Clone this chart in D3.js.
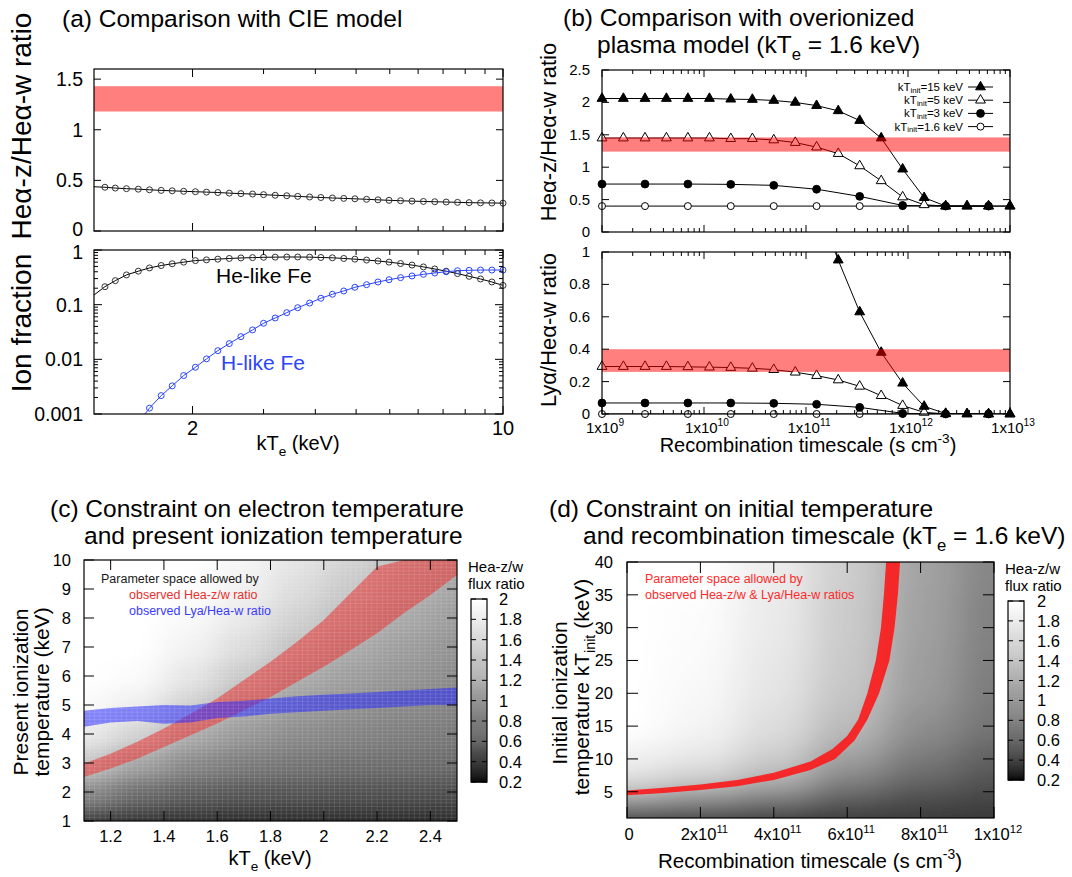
<!DOCTYPE html>
<html>
<head>
<meta charset="utf-8">
<script src="https://cdnjs.cloudflare.com/ajax/libs/d3/7.8.5/d3.min.js"></script>
<style>
  body { margin: 0; background: #fff; }
  svg text { font-family: "Liberation Sans", Arial, Helvetica, sans-serif; }
</style>
</head>
<body>
<div id="chart"></div>
<script>
// ---------- (a) CIE model ----------
const kTeCIE = [1.2, 1.27, 1.34, 1.42, 1.51, 1.60, 1.70, 1.80, 1.91, 2.03, 2.15, 2.28, 2.42, 2.57, 2.73, 2.89, 3.07, 3.26, 3.45,
  3.67, 3.89, 4.13, 4.38, 4.64, 4.93, 5.23, 5.54, 5.88, 6.24, 6.62, 7.02, 7.45, 7.90, 8.39, 8.90, 9.44, 10.0]
const zwRatioCIE = [0.437, 0.432, 0.424, 0.418, 0.413, 0.407, 0.401, 0.397, 0.392, 0.388, 0.384, 0.380, 0.374, 0.369, 0.365,
  0.359, 0.353, 0.348, 0.342, 0.336, 0.331, 0.326, 0.322, 0.318, 0.313, 0.308, 0.303, 0.299, 0.295, 0.292, 0.289, 0.286,
  0.283, 0.280, 0.278, 0.277, 0.275]
const heLikeFe = [0.15, 0.213, 0.275, 0.35, 0.41, 0.47, 0.52, 0.56, 0.60, 0.64, 0.66, 0.68, 0.70, 0.715, 0.725, 0.735, 0.74,
  0.745, 0.745, 0.74, 0.73, 0.72, 0.70, 0.68, 0.655, 0.63, 0.60, 0.565, 0.53, 0.49, 0.45, 0.41, 0.37, 0.33, 0.295, 0.26, 0.225]
const hLikeFe = [null, null, null, null, 0.0007, 0.00128, 0.00217, 0.00327, 0.00505, 0.00716, 0.0102, 0.0144, 0.0194, 0.026,
  0.0345, 0.0457, 0.0571, 0.0714, 0.088, 0.107, 0.131, 0.155, 0.178, 0.208, 0.232, 0.26, 0.286, 0.312, 0.335, 0.359, 0.38,
  0.40, 0.418, 0.425, 0.43, 0.43, 0.43]
const zwObsA = [1.18, 1.43]
const kTeMinorTicks = [2.89, 3.78, 4.67, 5.56, 6.44, 7.33, 8.22, 9.11]

// ---------- (b) overionized plasma model ----------
const tauFine = [1e9, 1.62e9, 2.64e9, 4.28e9, 6.95e9, 1.13e10, 1.83e10, 2.98e10, 4.83e10, 7.85e10, 1.27e11, 2.07e11,
  3.36e11, 5.46e11, 8.86e11, 1.44e12, 2.34e12, 3.79e12, 6.16e12, 1e13]
const tauCoarse = [1e9, 2.64e9, 6.95e9, 1.83e10, 4.83e10, 1.27e11, 3.36e11, 8.86e11, 2.34e12, 6.16e12]
const zw15 = [2.06, 2.06, 2.06, 2.06, 2.06, 2.06, 2.05, 2.045, 2.03, 2.0, 1.95, 1.87, 1.72, 1.45, 0.97, 0.53, 0.40, 0.40, 0.40, 0.40]
const zw5 = [1.45, 1.45, 1.45, 1.45, 1.45, 1.45, 1.44, 1.44, 1.42, 1.38, 1.31, 1.21, 1.02, 0.79, 0.54, 0.42, 0.40, 0.40, 0.40, 0.40]
const zw3 = [0.74, 0.74, 0.74, 0.735, 0.72, 0.66, 0.55, 0.41, 0.40, 0.40]
const zw16 = [0.40, 0.40, 0.40, 0.40, 0.40, 0.40, 0.40, 0.40, 0.40, 0.40]
const ly15 = [null, null, null, null, null, null, null, null, null, null, 1.3, 0.95, 0.63, 0.38, 0.19, 0.047, 0.003, 0.001, 0, 0]
const ly5 = [0.293, 0.293, 0.293, 0.293, 0.291, 0.289, 0.287, 0.282, 0.274, 0.258, 0.237, 0.21, 0.171, 0.113, 0.052, 0.01, 0.001, 0, 0, 0]
const ly3 = [0.068, 0.068, 0.068, 0.068, 0.066, 0.06, 0.041, 0.004, 0, 0]
const ly16 = [0, 0, 0, 0, 0, 0, 0, 0, 0, 0]
const zwObsB = [1.24, 1.46]
const lyObsB = [0.26, 0.40]
const initLabels = ["15", "5", "3", "1.6"]

// ---------- (c) kTe vs present ionization temperature ----------
const kTeMap = [1.1, 1.3, 1.5, 1.7, 1.9, 2.1, 2.3, 2.5]
const tzMap = [1, 2, 3, 4, 5, 6, 7, 8, 9, 10]
const zwMapC = [
  [0.40, 0.92, 1.43, 1.78, 1.95, 2.05, 2.10, 2.12, 2.15, 2.15],
  [0.36, 0.70, 1.12, 1.55, 1.82, 1.96, 2.04, 2.08, 2.10, 2.12],
  [0.34, 0.60, 0.90, 1.20, 1.52, 1.73, 1.86, 1.94, 1.98, 2.02],
  [0.33, 0.56, 0.80, 1.02, 1.22, 1.45, 1.64, 1.76, 1.85, 1.90],
  [0.33, 0.54, 0.76, 0.92, 1.06, 1.20, 1.38, 1.53, 1.64, 1.72],
  [0.33, 0.52, 0.72, 0.86, 0.97, 1.07, 1.18, 1.31, 1.44, 1.55],
  [0.33, 0.51, 0.70, 0.82, 0.91, 0.99, 1.07, 1.16, 1.26, 1.36],
  [0.33, 0.50, 0.68, 0.78, 0.86, 0.92, 0.98, 1.05, 1.13, 1.22]
]
const kTeBand = [1.1, 1.2, 1.3, 1.4, 1.5, 1.6, 1.7, 1.8, 1.9, 2.0, 2.1, 2.2, 2.3, 2.4, 2.5]
const zwBandLo = [2.52, 2.81, 3.15, 3.55, 3.96, 4.36, 4.82, 5.28, 5.80, 6.32, 6.89, 7.47, 8.16, 8.79, 9.48]
const zwBandHi = [2.98, 3.32, 3.73, 4.19, 4.70, 5.22, 5.86, 6.49, 7.18, 7.93, 8.85, 9.77, 10, 10, 10]
const lyBandLo = [4.25, 4.40, 4.45, 4.35, 4.40, 4.55, 4.60, 4.70, 4.75, 4.80, 4.85, 4.90, 4.95, 5.00, 5.00]
const lyBandHi = [4.80, 4.90, 4.95, 5.00, 4.98, 5.10, 5.15, 5.22, 5.30, 5.35, 5.40, 5.45, 5.50, 5.55, 5.60]

// ---------- (d) initial temperature vs recombination timescale ----------
const tauMap = [0, 2e11, 4e11, 6e11, 8e11, 1e12]
const kTinitMap = [1, 3, 5, 7.5, 10, 15, 20, 25, 30, 40]
const zwMapD = [
  [0.38, 0.77, 1.40, 1.70, 1.85, 2.06, 2.10, 2.12, 2.15, 2.20],
  [0.38, 0.70, 1.20, 1.55, 1.75, 1.88, 1.93, 1.95, 1.97, 2.00],
  [0.38, 0.60, 1.00, 1.30, 1.50, 1.65, 1.72, 1.75, 1.78, 1.80],
  [0.38, 0.50, 0.70, 0.90, 1.10, 1.32, 1.42, 1.46, 1.48, 1.50],
  [0.38, 0.45, 0.55, 0.68, 0.80, 0.95, 1.05, 1.08, 1.10, 1.12],
  [0.38, 0.43, 0.48, 0.55, 0.62, 0.75, 0.80, 0.83, 0.85, 0.88]
]
const allowedInnerTau = [0, 1e11, 2e11, 3e11, 4e11, 5e11, 5.6e11, 6e11, 6.3e11, 6.55e11, 6.78e11, 6.92e11, 7.0e11, 7.06e11]
const allowedInnerKT = [5.2, 5.6, 6.1, 6.8, 7.9, 9.6, 11.5, 13.5, 16, 20, 25, 30, 35, 40]
const allowedOuterTau = [0, 1e11, 2e11, 3e11, 4e11, 5e11, 5.67e11, 6.2e11, 6.55e11, 6.87e11, 7.15e11, 7.29e11, 7.38e11, 7.44e11]
const allowedOuterKT = [4.45, 4.8, 5.25, 5.85, 6.8, 8.3, 10, 12.8, 16, 20, 25, 30, 35, 40]

const cbTicks = [0.2, 0.4, 0.6, 0.8, 1, 1.2, 1.4, 1.6, 1.8, 2]

// ===================================================================
const svg = d3.select("#chart").append("svg").attr("width", 1072).attr("height", 877)
const defs = svg.append("defs")

// gnuplot gray palette (gamma 1.5)
const grayNorm = d3.scaleLinear().domain([0.2, 2]).range([0, 1]).clamp(true)
const gray = v => {
  const c = Math.round(255 * Math.pow(grayNorm(v), 1 / 1.5))
  return `rgb(${c},${c},${c})`
}

const sub = (t, v = 0.3) => ({t: t, v: v})
const sup = t => ({t: t, v: -0.45})

function label(x, y, parts, fs, opts = {}) {
  const t = svg.append("text")
    .attr("x", x).attr("y", y)
    .attr("font-size", fs)
    .attr("text-anchor", opts.anchor || "start")
    .attr("fill", opts.fill || "#000")
  if (opts.rotate) t.attr("transform", `rotate(-90,${x},${y})`)
  let shift = 0
  ;(Array.isArray(parts) ? parts : [parts]).forEach(p => {
    const s = typeof p === "string" ? {t: p, v: 0} : p
    const target = s.v * fs
    t.append("tspan").attr("dy", target - shift).attr("font-size", s.v ? fs * 0.68 : fs).text(s.t)
    shift = target
  })
  return t
}

function panel(id, x, y, w, h) {
  defs.append("clipPath").attr("id", id).append("rect").attr("width", w).attr("height", h)
  const g = svg.append("g").attr("transform", `translate(${x},${y})`)
  const inner = g.append("g").attr("clip-path", `url(#${id})`)
  return {id, g, inner, x, y, w, h}
}

function frame(p) {
  p.g.append("rect").attr("width", p.w).attr("height", p.h)
    .attr("fill", "none").attr("stroke", "#000").attr("stroke-width", 1.2)
}

function xTicks(p, scale, values, len) {
  p.g.append("path")
    .attr("d", values.map(v => `M${scale(v)},${p.h}v${-len}M${scale(v)},0v${len}`).join(""))
    .attr("stroke", "#000").attr("stroke-width", 1)
}

function yTicks(p, scale, values, len) {
  p.g.append("path")
    .attr("d", values.map(v => `M0,${scale(v)}h${len}M${p.w},${scale(v)}h${-len}`).join(""))
    .attr("stroke", "#000").attr("stroke-width", 1)
}

function logMinor(lo, hi) {
  const out = []
  for (let e = lo; e < hi; e++) for (let m = 2; m <= 9; m++) out.push(m * Math.pow(10, e))
  return out
}

const fmt = v => String(+v.toFixed(3))

function heat(p, xScale, yScale, xs, ys, vals, blur, ext) {
  const fid = p.id + "Blur"
  defs.append("filter").attr("id", fid)
    .attr("x", "-20%").attr("y", "-20%").attr("width", "140%").attr("height", "140%")
    .append("feGaussianBlur").attr("stdDeviation", blur)
  const px = xs.map(xScale), py = ys.map(yScale)
  const xl = px.map((v, i) => i === 0 ? v - ext : (v + px[i - 1]) / 2)
  const xr = px.map((v, i) => i === px.length - 1 ? v + ext : (v + px[i + 1]) / 2)
  const yt = py.map((v, i) => i === py.length - 1 ? v - ext : (v + py[i + 1]) / 2)
  const yb = py.map((v, i) => i === 0 ? v + ext : (v + py[i - 1]) / 2)
  const cells = []
  xs.forEach((x, i) => ys.forEach((y, j) => cells.push({i, j, v: vals[i][j]})))
  p.inner.append("g").attr("filter", `url(#${fid})`)
    .selectAll("rect").data(cells).join("rect")
      .attr("x", d => xl[d.i]).attr("y", d => yt[d.j])
      .attr("width", d => xr[d.i] - xl[d.i] + 0.6)
      .attr("height", d => yb[d.j] - yt[d.j] + 0.6)
      .attr("fill", d => gray(d.v))
}

function colorbar(x, y, w, h, labelX) {
  const s = d3.scaleLinear().domain([0.2, 2]).range([h, 0])
  const g = svg.append("g").attr("transform", `translate(${x},${y})`)
  const steps = d3.range(0.2, 2, 0.01)
  g.selectAll("rect.cb").data(steps).join("rect")
    .attr("x", 0).attr("width", w)
    .attr("y", d => s(d + 0.01)).attr("height", d => s(d) - s(d + 0.01) + 0.5)
    .attr("fill", d => gray(d + 0.005))
  g.append("path")
    .attr("d", cbTicks.map(v => `M0,${s(v)}h5M${w},${s(v)}h-5`).join(""))
    .attr("stroke", "#000").attr("stroke-width", 1)
  g.append("rect").attr("width", w).attr("height", h).attr("fill", "none").attr("stroke", "#000").attr("stroke-width", 1.2)
  cbTicks.forEach(v => label(labelX, y + s(v) + 6, fmt(v), 16.5))
  label(x - 3, y - 27.5, "Hea-z/w", 15)
  label(x - 3, y - 10, "flux ratio", 15)
}

// ===================== (a) =====================
label(62, 27, "(a) Comparison with CIE model", 24.5)

const xA = d3.scaleLog().domain([1.2, 10]).range([0, 409])
const pA1 = panel("clipA1", 94, 69, 409, 162)
const yA1 = d3.scaleLinear().domain([0, 1.6]).range([162, 0])
const ptsA1 = kTeCIE.map((k, i) => ({x: k, y: zwRatioCIE[i]}))
pA1.inner.append("path").datum(ptsA1)
  .attr("d", d3.line().x(d => xA(d.x)).y(d => yA1(d.y)))
  .attr("fill", "none").attr("stroke", "#000").attr("stroke-width", 1)
pA1.g.selectAll("circle").data(ptsA1.filter(d => d.x > xA.domain()[0])).join("circle")
  .attr("cx", d => xA(d.x)).attr("cy", d => yA1(d.y)).attr("r", 3)
  .attr("fill", "none").attr("stroke", "#333").attr("stroke-width", 1)
pA1.g.append("rect").attr("x", 0).attr("width", 409)
  .attr("y", yA1(zwObsA[1])).attr("height", yA1(zwObsA[0]) - yA1(zwObsA[1]))
  .attr("fill", "rgb(255,0,0)").attr("opacity", 0.5)
xTicks(pA1, xA, [2, 10], 8)
xTicks(pA1, xA, kTeMinorTicks, 5)
yTicks(pA1, yA1, [0, 0.5, 1, 1.5], 7)
frame(pA1)
;[0, 0.5, 1, 1.5].forEach(v => label(83, 69 + yA1(v) + (v === 0 ? 5 : 7), fmt(v), 19.5, {anchor: "end"}))
label(31, 126, "Heα-z/Heα-w ratio", 28, {anchor: "middle", rotate: true})

const pA2 = panel("clipA2", 94, 250, 409, 164)
const yA2 = d3.scaleLog().domain([0.001, 1]).range([164, 0])
const heLine = kTeCIE.map((k, i) => ({x: k, y: heLikeFe[i]}))
const hLine = kTeCIE.map((k, i) => ({x: k, y: hLikeFe[i]})).filter(d => d.y !== null)
const lineA2 = d3.line().x(d => xA(d.x)).y(d => yA2(d.y))
pA2.inner.append("path").datum(heLine).attr("d", lineA2)
  .attr("fill", "none").attr("stroke", "#000").attr("stroke-width", 1)
pA2.inner.append("path").datum(hLine).attr("d", lineA2)
  .attr("fill", "none").attr("stroke", "#2b45ff").attr("stroke-width", 1)
pA2.g.append("g").selectAll("circle").data(heLine.filter(d => d.x > 1.2)).join("circle")
  .attr("cx", d => xA(d.x)).attr("cy", d => yA2(d.y)).attr("r", 3)
  .attr("fill", "none").attr("stroke", "#333").attr("stroke-width", 1)
pA2.g.append("g").selectAll("circle").data(hLine.filter(d => d.y >= 0.001)).join("circle")
  .attr("cx", d => xA(d.x)).attr("cy", d => yA2(d.y)).attr("r", 3)
  .attr("fill", "none").attr("stroke", "#2b45ff").attr("stroke-width", 1)
xTicks(pA2, xA, [2, 10], 8)
xTicks(pA2, xA, kTeMinorTicks, 5)
yTicks(pA2, yA2, [0.001, 0.01, 0.1, 1], 8)
yTicks(pA2, yA2, logMinor(-3, 0), 4)
frame(pA2)
;[0.001, 0.01, 0.1, 1].forEach(v => label(83, 250 + yA2(v) + (v === 1 ? 9 : 7), fmt(v), 19.5, {anchor: "end"}))
label(94 + xA(2), 435, "2", 20, {anchor: "middle"})
label(94 + xA(10), 435, "10", 20, {anchor: "middle"})
label(298, 450, ["kT", sub("e"), " (keV)"], 20, {anchor: "middle"})
label(31, 323, "Ion fraction", 28, {anchor: "middle", rotate: true})
label(216, 283, "He-like Fe", 21)
label(221, 370, "H-like Fe", 21, {fill: "#2b45ff"})

// ===================== (b) =====================
label(563, 26, "(b) Comparison with overionized", 24.5)
label(597, 52.5, ["plasma model (kT", sub("e"), " = 1.6 keV)"], 24.5)

const xB = d3.scaleLog().domain([1e9, 1e13]).range([0, 408])
const pB1 = panel("clipB1", 602, 70, 408, 162)
const pB2 = panel("clipB2", 602, 252, 408, 162)
const yB1 = d3.scaleLinear().domain([0, 2.5]).range([162, 0])
const yB2 = d3.scaleLinear().domain([0, 1]).range([162, 0])

const seriesB = [
  {name: initLabels[0], tau: tauFine, zw: zw15, ly: ly15, shape: "tri", filled: true},
  {name: initLabels[1], tau: tauFine, zw: zw5, ly: ly5, shape: "tri", filled: false},
  {name: initLabels[2], tau: tauCoarse, zw: zw3, ly: ly3, shape: "circ", filled: true},
  {name: initLabels[3], tau: tauCoarse, zw: zw16, ly: ly16, shape: "circ", filled: false}
]
const triangle = d3.symbol(d3.symbolTriangle, 42)

function marker(sel, s) {
  if (s.shape === "tri") {
    sel.append("path").attr("d", triangle)
  } else {
    sel.append("circle").attr("r", s.filled ? 3.9 : 3.5)
  }
  sel.selectAll("path,circle")
    .attr("fill", s.filled ? "#000" : "#fff").attr("stroke", "#000").attr("stroke-width", 1)
}

function drawSeries(p, yScale, key) {
  const line = d3.line().x(d => xB(d.x)).y(d => yScale(d.y))
  seriesB.slice().reverse().forEach(s => {
    const pts = s.tau.map((t, i) => ({x: t, y: s[key][i]})).filter(d => d.y !== null)
    p.inner.append("path").datum(pts).attr("d", line)
      .attr("fill", "none").attr("stroke", "#000").attr("stroke-width", 1)
    const dom = yScale.domain()
    p.g.append("g").selectAll("g").data(pts.filter(d => d.y <= dom[1])).join("g")
      .attr("transform", d => `translate(${xB(d.x)},${yScale(d.y)})`)
      .each(function() { marker(d3.select(this), s) })
  })
}

// observed ranges drawn on top of the model curves (translucent)
drawSeries(pB1, yB1, "zw")
pB1.g.append("rect").attr("width", 408)
  .attr("y", yB1(zwObsB[1])).attr("height", yB1(zwObsB[0]) - yB1(zwObsB[1]))
  .attr("fill", "rgb(255,0,0)").attr("opacity", 0.5)
drawSeries(pB2, yB2, "ly")
pB2.g.append("rect").attr("width", 408)
  .attr("y", yB2(lyObsB[1])).attr("height", yB2(lyObsB[0]) - yB2(lyObsB[1]))
  .attr("fill", "rgb(255,0,0)").attr("opacity", 0.5)

const decB = [1e9, 1e10, 1e11, 1e12, 1e13]
;[pB1, pB2].forEach(p => {
  xTicks(p, xB, decB, 7)
  xTicks(p, xB, logMinor(9, 13), 4)
})
yTicks(pB1, yB1, [0, 0.5, 1, 1.5, 2, 2.5], 7)
yTicks(pB2, yB2, [0, 0.2, 0.4, 0.6, 0.8, 1], 7)
frame(pB1)
frame(pB2)
;[0, 0.5, 1, 1.5, 2, 2.5].forEach(v => label(590, 70 + yB1(v) + 5, fmt(v), 15, {anchor: "end"}))
;[0, 0.2, 0.4, 0.6, 0.8, 1].forEach(v => label(590, 252 + yB2(v) + 5, fmt(v), 15, {anchor: "end"}))
decB.forEach(v => label(602 + xB(v) + 3, 433, ["1x10", sup(String(Math.round(Math.log10(v))))], 15, {anchor: "middle"}))
label(808, 452, ["Recombination timescale (s cm", sup("-3"), ")"], 20, {anchor: "middle"})
label(556, 132, "Heα-z/Heα-w ratio", 22, {anchor: "middle", rotate: true})
label(556, 330, "Lyα/Heα-w ratio", 22, {anchor: "middle", rotate: true})

// legend
seriesB.forEach((s, i) => {
  const cy = 87 + i * 13.2
  label(963, cy + 4, ["kT", sub("init", 0.16), "=" + s.name + " keV"], 11.5, {anchor: "end"})
  svg.append("line").attr("x1", 968).attr("x2", 993).attr("y1", cy).attr("y2", cy)
    .attr("stroke", "#000").attr("stroke-width", 1)
  const mg = svg.append("g").attr("transform", `translate(980.5,${cy})`)
  marker(mg, s)
})

// ===================== (c) =====================
label(50, 517, "(c) Constraint on electron temperature", 24.5)
label(84, 544, "and present ionization temperature", 24.5)

const pC = panel("clipC", 84, 560, 373, 261)
const xC = d3.scaleLinear().domain([1.1, 2.5]).range([0, 373])
const yC = d3.scaleLinear().domain([1, 10]).range([261, 0])
heat(pC, xC, yC, kTeMap, tzMap, zwMapC, "16 9", 70)

const bandArea = d3.area().x(d => xC(d.x)).y0(d => yC(d.lo)).y1(d => yC(d.hi))
pC.inner.append("path")
  .datum(kTeBand.map((k, i) => ({x: k, lo: zwBandLo[i], hi: zwBandHi[i]})))
  .attr("d", bandArea).attr("fill", "rgb(235,45,45)").attr("opacity", 0.55)
pC.inner.append("path")
  .datum(kTeBand.map((k, i) => ({x: k, lo: lyBandLo[i], hi: lyBandHi[i]})))
  .attr("d", bandArea).attr("fill", "rgb(40,40,255)").attr("opacity", 0.55)

// faint cell grid of the map
const gridX = d3.range(1.1, 2.5, 0.02), gridY = d3.range(1, 10, 0.125)
pC.inner.append("path")
  .attr("d", gridX.map(v => `M${xC(v)},0V261`).join("") + gridY.map(v => `M0,${yC(v)}H373`).join(""))
  .attr("stroke", "#fff").attr("stroke-opacity", 0.16).attr("stroke-width", 0.7)

xTicks(pC, xC, [1.2, 1.4, 1.6, 1.8, 2, 2.2, 2.4], 10)
yTicks(pC, yC, d3.range(1, 11), 10)
frame(pC)
;[1.2, 1.4, 1.6, 1.8, 2, 2.2, 2.4].forEach(v => label(84 + xC(v), 842, fmt(v), 16.5, {anchor: "middle"}))
d3.range(1, 11).forEach(v => label(71, 560 + yC(v) + 6, fmt(v), 16.5, {anchor: "end"}))
label(270, 865, ["kT", sub("e"), " (keV)"], 20, {anchor: "middle"})
label(27.5, 692, "Present ionization", 21, {anchor: "middle", rotate: true})
label(48.5, 692, "temperature (keV)", 21, {anchor: "middle", rotate: true})
label(101, 583, "Parameter space allowed by", 12.5, {fill: "#1a1a1a"})
label(129, 598.5, "observed Hea-z/w ratio", 12.5, {fill: "#e8302e"})
label(129, 615, "observed Lya/Hea-w ratio", 12.5, {fill: "#3b3bff"})
colorbar(471, 599, 16, 183, 499)

// ===================== (d) =====================
label(549, 517, "(d) Constraint on initial temperature", 24.5)
label(583, 544, ["and recombination timescale (kT", sub("e"), " = 1.6 keV)"], 24.5)

const pD = panel("clipD", 627, 562, 367, 256)
const xD = d3.scaleLinear().domain([0, 1e12]).range([0, 367])
const yD = d3.scaleLinear().domain([1, 40]).range([256, 0])
heat(pD, xD, yD, tauMap, kTinitMap, zwMapD, "20 13", 70)

const poly = allowedInnerTau.map((t, i) => [xD(t), yD(allowedInnerKT[i])])
  .concat(allowedOuterTau.map((t, i) => [xD(t), yD(allowedOuterKT[i])]).reverse())
pD.inner.append("path")
  .attr("d", d3.line().curve(d3.curveLinearClosed)(poly))
  .attr("fill", "rgb(250,28,28)").attr("opacity", 0.92)

const ticksTauD = [0, 2e11, 4e11, 6e11, 8e11, 1e12]
xTicks(pD, xD, ticksTauD, 11)
yTicks(pD, yD, [5, 10, 15, 20, 25, 30, 35, 40], 11)
frame(pD)
label(627 + xD(0) + 2, 840, "0", 16.5, {anchor: "middle"})
ticksTauD.slice(1).forEach(v => {
  const e = Math.floor(Math.log10(v))
  const m = Math.round(v / Math.pow(10, e))
  label(627 + xD(v) + 4, 840, [m + "x10", sup(String(e))], 16.5, {anchor: "middle"})
})
;[5, 10, 15, 20, 25, 30, 35, 40].forEach(v => label(613, 562 + yD(v) + 6, fmt(v), 16.5, {anchor: "end"}))
label(810, 868, ["Recombination timescale (s cm", sup("-3"), ")"], 20.5, {anchor: "middle"})
label(567, 693, "Initial ionization", 21, {anchor: "middle", rotate: true})
label(589, 687, ["temperature kT", sub("init"), " (keV)"], 21, {anchor: "middle", rotate: true})
label(645, 583, "Parameter space allowed by", 12.5, {fill: "#ff2a2a"})
label(645, 598.5, "observed Hea-z/w & Lya/Hea-w ratios", 12.5, {fill: "#ff2a2a"})
colorbar(1008, 601, 16, 179, 1037)
</script>
</body>
</html>
